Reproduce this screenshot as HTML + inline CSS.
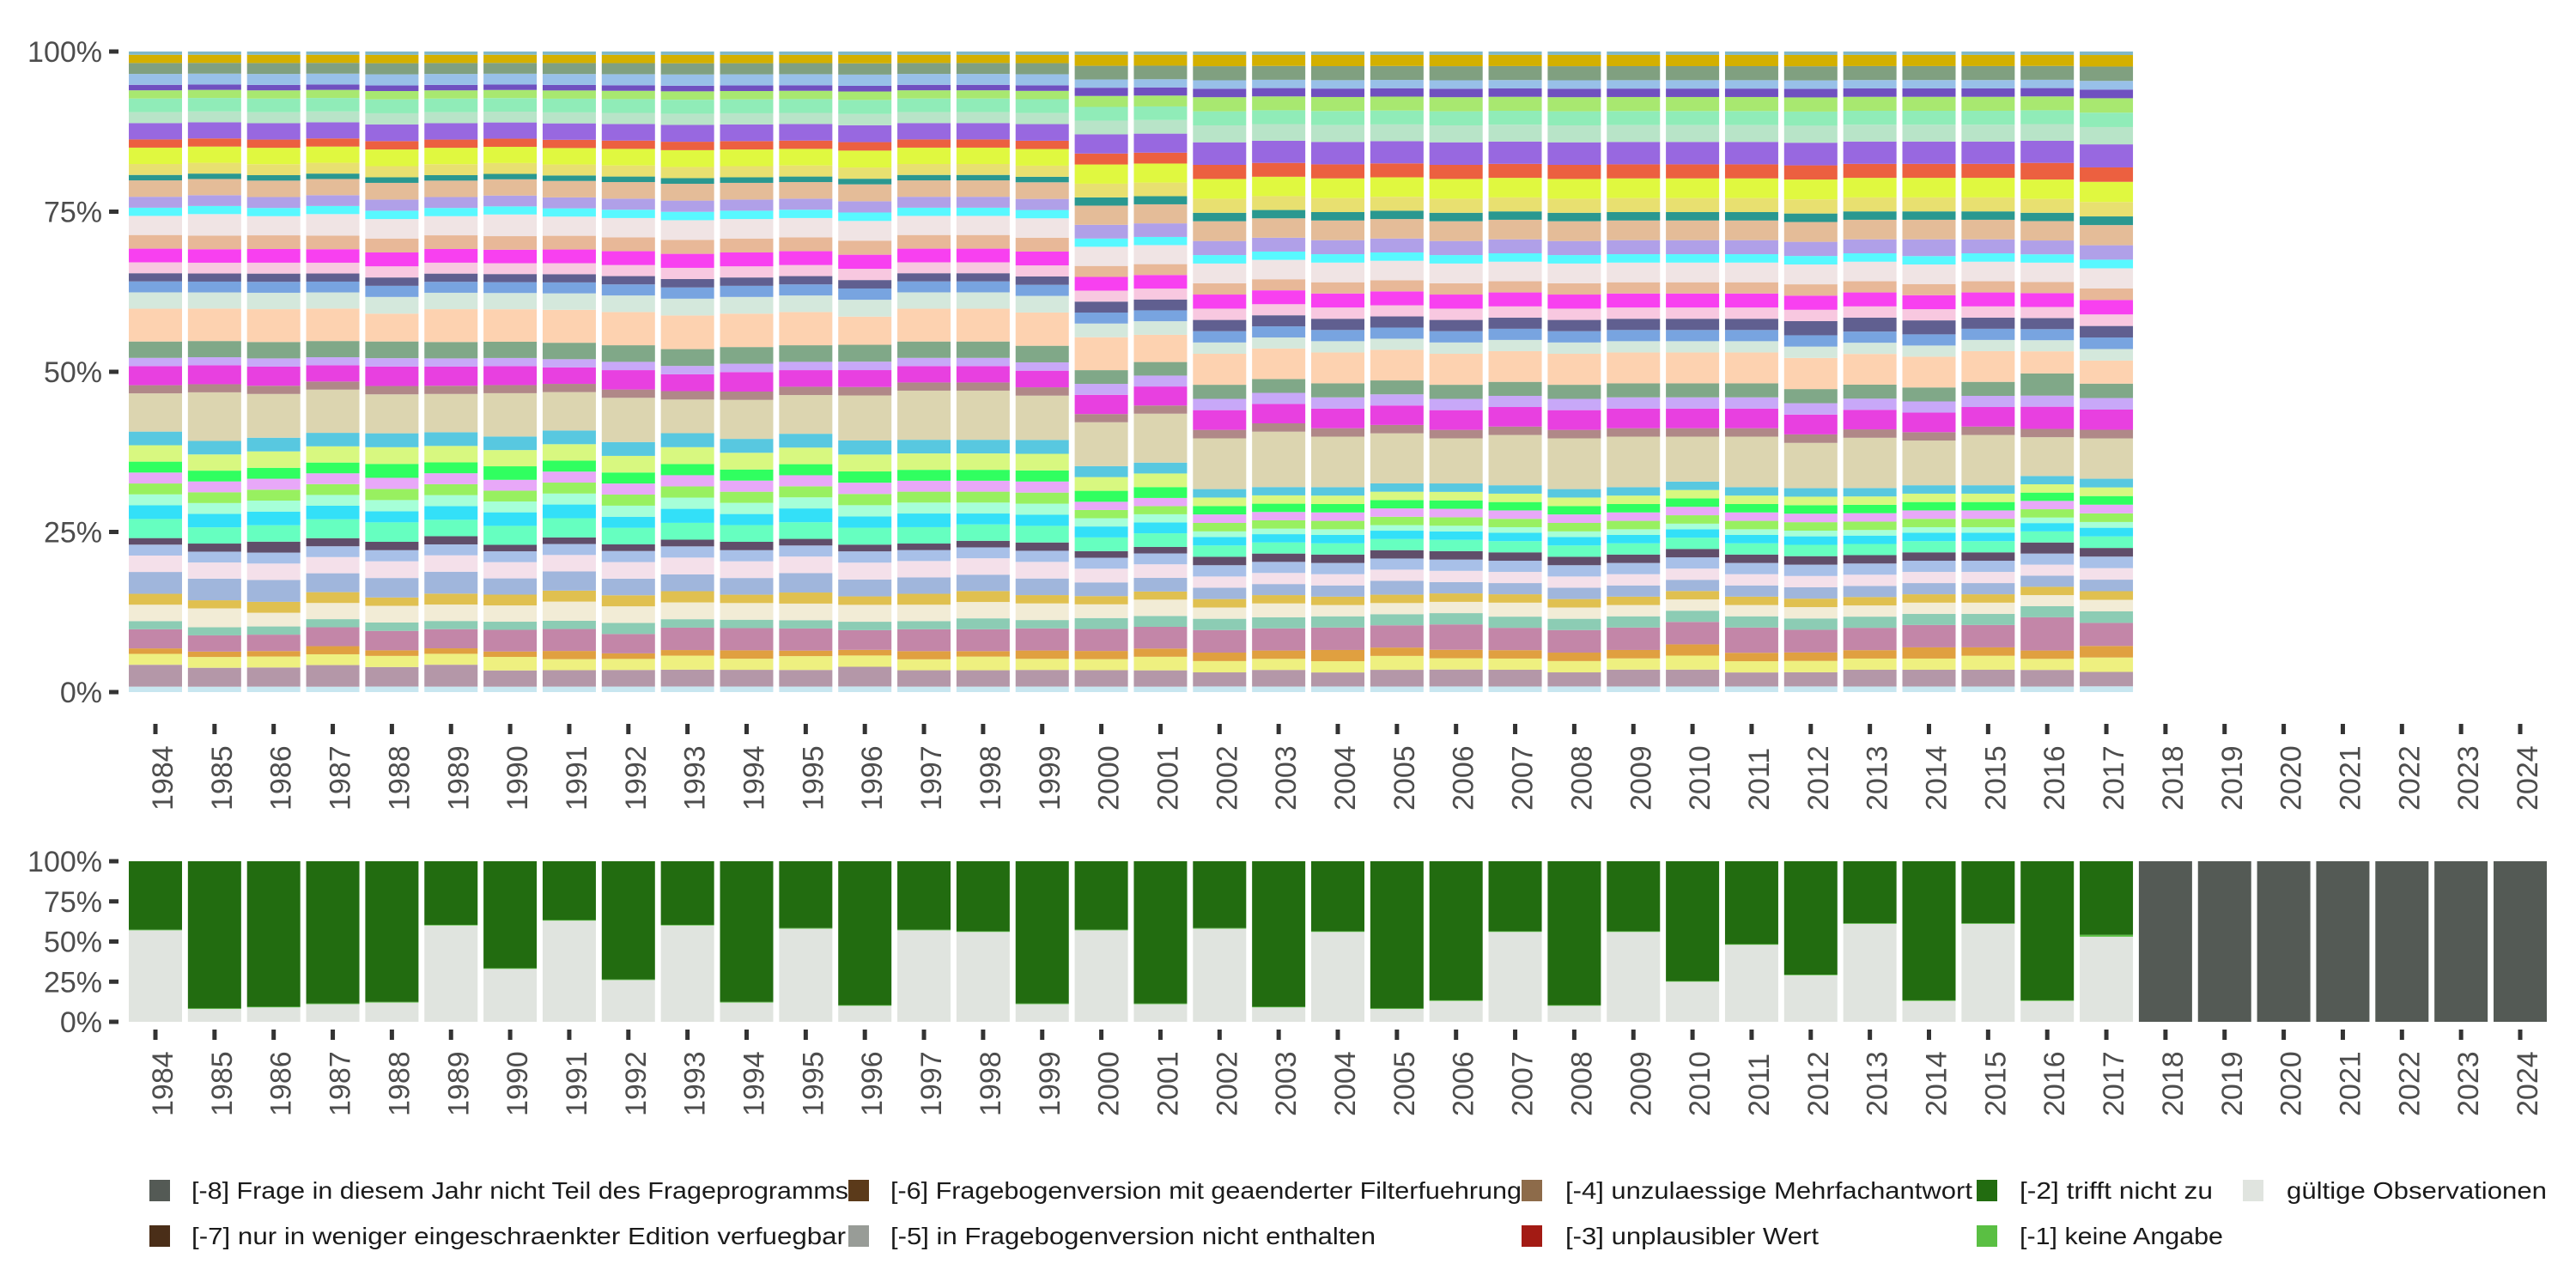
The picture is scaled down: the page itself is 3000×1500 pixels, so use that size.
<!DOCTYPE html>
<html><head><meta charset="utf-8">
<style>
html,body{margin:0;padding:0;background:#fff;}
svg{display:block;font-family:"Liberation Sans","DejaVu Sans",sans-serif;}
</style></head>
<body>
<svg id="chart" width="3000" height="1500" viewBox="0 0 3000 1500" xmlns="http://www.w3.org/2000/svg">
<rect width="3000" height="1500" fill="#ffffff"/>
<g id="top"></g>
<g id="bottom"></g>
<g id="legend"></g>
</svg>
<script>
// ===== data =====
const years = [1984,1985,1986,1987,1988,1989,1990,1991,1992,1993,1994,1995,1996,1997,1998,1999,2000,2001,2002,2003,2004,2005,2006,2007,2008,2009,2010,2011,2012,2013,2014,2015,2016,2017,2018,2019,2020,2021,2022,2023,2024];
const yTickValues = [0,25,50,75,100];
const yTickLabels = ["0%","25%","50%","75%","100%"];
// top chart: answer categories (bottom -> top), colours and per-year weights (1984..2017)
const catColors = ["#c8e6f0","#b497a8","#eef080","#e0a040","#c386a8","#8cccb4","#f2ecd6","#e0c050","#a0b6dc","#f4e0ea","#a8c0e8","#604e6a","#66ffc0","#33e0f8","#a6ffd8","#98f060","#e8a8f8","#30ff60","#d8f880","#58c8e0","#dcd5b0","#b08888","#e840e0","#c8a8f8","#80a888","#fdd2b0","#d4e8dc","#78a4e0","#605f90","#f8c8e0","#f840f0","#e8b898","#f0e4e4","#58f8ff","#b0a0e8","#e4bc98","#2a9890","#e8e070","#e0f840","#ec6040","#9868e0","#b8e4c8","#90ecb8","#a8e870","#7050c0","#98c0e8","#80a080","#d4b000","#80b8c8"];
const w01 = [1,1,1,1,1,1,1,1,1,1,1,1,1,1,1,1,1,1,1,1,1,1,1,1,1,1,1,1,1,1,1,1,1,1];
const w02 = [4,3.5,3.5,4,3.5,4,3,3,3,3,3,3,3.5,3,3,3,3,3,2.5,3,2.5,3,3,3,2.5,3,3,2.5,2.5,3,3,3,3,2.5];
const w03 = [2,2,2,2,2,2,2.5,2,2,2.5,2,2.5,2,2,2.5,2,2,2.5,2,2,2,2.5,2,2,2,2,2.5,2,2,2,2,2.5,2,2.5];
const w04 = [1,1,1,1.5,1,1,1,1.5,1,1,1.5,1,1,1.5,1,1.5,1.5,1.5,1.5,1.5,2,1.5,1.5,1.5,1.5,1.5,2,1.5,1.5,1.5,2,1.5,1.5,2];
const w05 = [3.5,3,3,3.5,3.5,3.5,4,4,3.5,4,4,4,3.5,4,4,4,4,4,4,4,4,4,4.5,4,4,4,4,4.5,4,4,4,4,6,4];
const w06 = [1.5,1.5,1.5,1.5,1.5,1.5,1.5,1.5,2,1.5,1.5,1.5,1.5,1.5,2,1.5,2,2,2,2,2,2,2,2,2,2,2,2,2,2,2,2,2,2];
const w07 = [3,3.5,2.5,3,3,3,3,3.5,3,3,3,3,3,3,3,3,2.5,3,2,2.5,2,2,2,2.5,2,2,2,2,2,2,2,2,2,2];
const w08 = [2,1.5,2,2,1.5,2,2,2,2,2,1.5,2,1.5,2,2,1.5,1.5,1.5,1.5,1.5,1.5,1.5,1.5,1.5,1.5,1.5,1.5,1.5,1.5,1.5,1.5,1.5,1.5,1.5];
const w09 = [4,4,4,3.5,3.5,4,3,3.5,3,3,3,3.5,3,3,3,3,2.5,2.5,2,2,2,2.5,2,2,2,2,2,2,2,2,2,2,2,2];
const w10 = [3,3,3,3,3,3,3,3,3,3,3,3,3,3,3,3,2.5,2.5,2,2,2,2,2,2,2,2,2,2,2,2,2,2,2,2];
const w11 = [2,2,2,2,2,2,2,2,2,2,2,2,2,2,2,2,2,2,2,2,2,2,2,2,2,2,2,2,2,2,2,2,2,2];
const w12 = [1.2,1.5,2,1.5,1.5,1.5,1.2,1.2,1.2,1.2,1.5,1.2,1.2,1.2,1.2,1.5,1.2,1.2,1.5,1.5,1.5,1.5,1.5,1.5,1.5,1.5,1.5,1.5,1.5,1.5,1.5,1.5,2,1.5];
const w13 = [3.5,3,3,3.5,3.5,3,3.5,3.5,3,3,3,3,3,3,3,3,2.5,2.5,2,2,2,2,2,2,2,2,2,2,2,2,2,2,2,2];
const w14 = [2.5,2.5,2.5,2.5,2,2.5,2.5,2.5,2,2.5,2,2.5,2,2.5,2,2,2,2,1.5,1.5,1.5,1.5,1.5,1.5,1.5,1.5,1.5,1.5,1.5,1.5,1.5,1.5,1.5,1.5];
const w15 = [2,2,2,2,2,2,2,2,2,2,2,2,2,2,2,2,1.5,1.5,1,1,1,1,1,1,1,1,1,1,1,1,1,1,1,1];
const w16 = [2,2,2,2,2,2,2,2,2,2,2,2,2,2,2,2,1.5,1.5,1.5,1.5,1.5,1.5,1.5,1.5,1.5,1.5,1.5,1.5,1.5,1.5,1.5,1.5,1.5,1.5];
const w17 = [2,2,2,2,2,2,2,2,2,2,2,2,2,2,2,2,1.5,1.5,1.5,1.5,1.5,1.5,1.5,1.5,1.5,1.5,1.5,1.5,1.5,1.5,1.5,1.5,1.5,1.5];
const w18 = [2,2,2,2,2.5,2,2.5,2,2,2,2,2,2,2,2,2,2,2,1.5,1.5,1.5,1.5,1.5,1.5,1.5,1.5,1.5,1.5,1.5,1.5,1.5,1.5,1.5,1.5];
const w19 = [3,3,3,3,3,3,3,3,3,3,3,3,3,3,3,3,2.5,2.5,1.5,1.5,1.5,1.5,1.5,1.5,1.5,1.5,1.5,1.5,1.5,1.5,1.5,1.5,1.5,1.5];
const w20 = [2.5,2.5,2.5,2.5,2.5,2.5,2.5,2.5,2.5,2.5,2.5,2.5,2.5,2.5,2.5,2.5,2,2,1.5,1.5,1.5,1.5,1.5,1.5,1.5,1.5,1.5,1.5,1.5,1.5,1.5,1.5,1.5,1.5];
const w21 = [7,9,8,8,7,7,8,7,8,6,7,7,8,9,9,8,8,9,9,10,9,9,8,9,9,9,8,9,8,9,8,9,7,7];
const w22 = [1.5,1.5,1.5,1.5,1.5,1.5,1.5,1.5,1.5,1.5,1.5,1.5,1.5,1.5,1.5,1.5,1.5,1.5,1.5,1.5,1.5,1.5,1.5,1.5,1.5,1.5,1.5,1.5,1.5,1.5,1.5,1.5,1.5,1.5];
const w23 = [3.5,3.5,3.5,3,3.5,3.5,3.5,3,3.5,3,3.5,3,3,3,3,3,3.5,3.5,3.5,3.5,3.5,3.5,3.5,3.5,3.5,3.5,3.5,3.5,3.5,3.5,3.5,3.5,4,3.5];
const w24 = [1.5,1.5,1.5,1.5,1.5,1.5,1.5,1.5,1.5,1.5,1.5,1.5,1.5,1.5,1.5,1.5,2,2,2,2,2,2,2,2,2,2,2,2,2,2,2,2,2,2];
const w25 = [3,3,3,3,3,3,3,3,3,3,3,3,3,3,3,3,2.5,2.5,2.5,2.5,2.5,2.5,2.5,2.5,2.5,2.5,2.5,2.5,2.5,2.5,2.5,2.5,4,2.5];
const w26 = [6,6,6,6,5,6,6,6,6,6,6,6,5,6,6,6,6,5,5.5,5.5,5.5,5.5,5.5,5.5,5.5,5.5,5.5,5.5,5.5,5.5,5.5,5.5,4,4];
const w27 = [3,3,3,3,3,3,3,3,3,3,3,3,3,3,3,3,2.5,2.5,2,2,2,2,2,2,2,2,2,2,2,2,2,2,2,2];
const w28 = [2,2,2,2,2,2,2,2,2,2,2,2,2,2,2,2,2,2,2,2,2,2,2,2,2,2,2,2,2,2,2,2,2,2];
const w29 = [1.5,1.5,1.5,1.5,1.5,1.5,1.5,1.5,1.5,1.5,1.5,1.5,1.5,1.5,1.5,1.5,2,2,2,2,2,2,2,2,2,2,2,2,2.5,2.5,2.5,2,2,2];
const w30 = [2,2,2,2,2,2,2,2,2,2,2,2,2,2,2,2,2,2,2,2,2,2,2,2,2,2,2,2,2,2,2,2,2,2];
const w31 = [2.5,2.5,2.5,2.5,2.5,2.5,2.5,2.5,2.5,2.5,2.5,2.5,2.5,2.5,2.5,2.5,2.5,2.5,2.5,2.5,2.5,2.5,2.5,2.5,2.5,2.5,2.5,2.5,2.5,2.5,2.5,2.5,2.5,2.5];
const w32 = [2.5,2.5,2.5,2.5,2.5,2.5,2.5,2.5,2.5,2.5,2.5,2.5,2.5,2.5,2.5,2.5,2,2,2,2,2,2,2,2,2,2,2,2,2,2,2,2,2,2];
const w33 = [3.5,4,3.5,4,3.5,3.5,4,3.5,3.5,3.5,3.5,3.5,3.5,3.5,3.5,3.5,3.5,3.5,3.5,3.5,3.5,3.5,3.5,3.5,3.5,3.5,3.5,3.5,3.5,3.5,3.5,3.5,3.5,3.5];
const w34 = [1.5,1.5,1.5,1.5,1.5,1.5,1.5,1.5,1.5,1.5,1.5,1.5,1.5,1.5,1.5,1.5,1.5,1.5,1.5,1.5,1.5,1.5,1.5,1.5,1.5,1.5,1.5,1.5,1.5,1.5,1.5,1.5,1.5,1.5];
const w35 = [2,2,2,2,2,2,2,2,2,2,2,2,2,2,2,2,2.5,2.5,2.5,2.5,2.5,2.5,2.5,2.5,2.5,2.5,2.5,2.5,2.5,2.5,3,2.5,2.5,2.5];
const w36 = [3,3,3,3,3,3,3,3,3,3,3,3,3,3,3,3,3.5,3.5,3.5,3.5,3.5,3.5,3.5,3.5,3.5,3.5,3.5,3.5,3.5,3.5,3.5,3.5,3.5,3.5];
const w37 = [1,1,1,1,1,1,1,1,1,1,1,1,1,1,1,1,1.5,1.5,1.5,1.5,1.5,1.5,1.5,1.5,1.5,1.5,1.5,1.5,1.5,1.5,1.5,1.5,1.5,1.5];
const w38 = [2,2,2,2,2,2,2,2,2,2,2,2,2,2,2,2,2.5,2.5,2.5,2.5,2.5,2.5,2.5,2.5,2.5,2.5,2.5,2.5,2.5,2.5,2.5,2.5,2.5,2.5];
const w39 = [3,3,3,3,3,3,3,3,3,3,3,3,3,3,3,3,3.5,3.5,3.5,3.5,3.5,3.5,3.5,3.5,3.5,3.5,3.5,3.5,3.5,3.5,3.5,3.5,3.5,3.5];
const w40 = [1.5,1.5,1.5,1.5,1.5,1.5,1.5,1.5,1.5,1.5,1.5,1.5,1.5,1.5,1.5,1.5,2,2,2.5,2.5,2.5,2.5,2.5,2.5,2.5,2.5,2.5,2.5,2.5,2.5,2.5,2.5,3,2.5];
const w41 = [3,3,3,3,3,3,3,3,3,3,3,3,3,3,3,3,3.5,3.5,4,4,4,4,4,4,4,4,4,4,4,4,4,4,4,4];
const w42 = [2,2,2,2,2,2,2,2,2,2,2,2,2,2,2,2,2.5,2.5,3,3,3,3,3,3,3,3,3,3,3,3,3,3,3,3];
const w43 = [2.5,2.5,2.5,2.5,2.5,2.5,2.5,2.5,2.5,2.5,2.5,2.5,2.5,2.5,2.5,2.5,2.5,2.5,2.5,2.5,2.5,2.5,2.5,2.5,2.5,2.5,2.5,2.5,2.5,2.5,2.5,2.5,2.5,2.5];
const w44 = [1.5,1.5,1.5,1.5,1.5,1.5,1.5,1.5,1.5,1.5,1.5,1.5,1.5,1.5,1.5,1.5,2,2,2.5,2.5,2.5,2.5,2.5,2.5,2.5,2.5,2.5,2.5,2.5,2.5,2.5,2.5,2.5,2.5];
const w45 = [1,1,1,1,1,1,1,1,1,1,1,1,1,1,1,1,1.5,1.5,1.5,1.5,1.5,1.5,1.5,1.5,1.5,1.5,1.5,1.5,1.5,1.5,1.5,1.5,1.5,1.5];
const w46 = [2,2,2,2,2,2,2,2,2,2,2,2,2,2,2,2,1.5,1.5,1.5,1.5,1.5,1.5,1.5,1.5,1.5,1.5,1.5,1.5,1.5,1.5,1.5,1.5,1.5,1.5];
const w47 = [2,2,2,2,2,2,2,2,2,2,2,2,2,2,2,2,2.5,2.5,2.5,2.5,2.5,2.5,2.5,2.5,2.5,2.5,2.5,2.5,2.5,2.5,2.5,2.5,2.5,2.5];
const w48 = [1.5,1.5,1.5,1.5,1.5,1.5,1.5,1.5,1.5,1.5,1.5,1.5,1.5,1.5,1.5,1.5,2,2,2,2,2,2,2,2,2,2,2,2,2,2,2,2,2,2];
const w49 = [0.6,0.6,0.6,0.6,0.6,0.6,0.6,0.6,0.6,0.6,0.6,0.6,0.6,0.6,0.6,0.6,0.6,0.6,0.6,0.6,0.6,0.6,0.6,0.6,0.6,0.6,0.6,0.6,0.6,0.6,0.6,0.6,0.6,0.6];
const catWeights = [w01,w02,w03,w04,w05,w06,w07,w08,w09,w10,w11,w12,w13,w14,w15,w16,w17,w18,w19,w20,w21,w22,w23,w24,w25,w26,w27,w28,w29,w30,w31,w32,w33,w34,w35,w36,w37,w38,w39,w40,w41,w42,w43,w44,w45,w46,w47,w48,w49];
// bottom chart: share (%) per year
const validShare = [57,8,9,11,12,60,33,63,26,60,12,58,10,57,56,11,57,11,58,9,56,8,13,56,10,56,25,48,29,61,13,61,13,53,0,0,0,0,0,0,0];
const noAnswerShare = [0.4,0.4,0.4,0.4,0.4,0.4,0.4,0.4,0.4,0.4,0.4,0.4,0.4,0.4,0.4,0.4,0.4,0.4,0.4,0.4,0.4,0.4,0.4,0.4,0.4,0.4,0.4,0.4,0.4,0.4,0.4,0.4,0.4,1.2,0,0,0,0,0,0,0];
const notApplicableShare = [42.6,91.6,90.6,88.6,87.6,39.6,66.6,36.6,73.6,39.6,87.6,41.6,89.6,42.6,43.6,88.6,42.6,88.6,41.6,90.6,43.6,91.6,86.6,43.6,89.6,43.6,74.6,51.6,70.6,38.6,86.6,38.6,86.6,45.8,0,0,0,0,0,0,0];
const notInProgramShare = [0,0,0,0,0,0,0,0,0,0,0,0,0,0,0,0,0,0,0,0,0,0,0,0,0,0,0,0,0,0,0,0,0,0,100,100,100,100,100,100,100];
const legendLabels = ["[-8] Frage in diesem Jahr nicht Teil des Frageprogramms","[-7] nur in weniger eingeschraenkter Edition verfuegbar","[-6] Fragebogenversion mit geaenderter Filterfuehrung","[-5] in Fragebogenversion nicht enthalten","[-4] unzulaessige Mehrfachantwort","[-3] unplausibler Wert","[-2] trifft nicht zu","[-1] keine Angabe","gültige Observationen"];

// ===== layout =====
const NS = "http://www.w3.org/2000/svg";
const X0 = 181, XSTEP = 68.85, BW = 62;
const xScale = i => X0 + i * XSTEP;
const topY = v => 806 - v / 100 * 746;
const botY = v => 1190 - v / 100 * 187;
function mk(tag, attrs, parent){ const e = document.createElementNS(NS, tag); for (const k in attrs) e.setAttribute(k, attrs[k]); parent.appendChild(e); return e; }
const gTop = document.getElementById('top'), gBot = document.getElementById('bottom'), gLeg = document.getElementById('legend');

function yAxis(g, yf, name){
  yTickValues.forEach((v, i) => {
    const y = yf(v);
    const t = mk('rect', {x:127, y:y-2.5, width:11, height:5, fill:'#333333'}, g);
    
    
    const tx = mk('text', {x:119, y:y+12, 'text-anchor':'end', 'font-size':34, fill:'#4d4d4d'}, g);
    tx.textContent = yTickLabels[i];
    
    
  });
}
function xAxis(g, tickY, name){
  years.forEach((yr, i) => {
    const cx = xScale(i);
    const t = mk('rect', {x:cx-2.5, y:tickY, width:5, height:12, fill:'#333333'}, g);
    
    
    const tx = mk('text', {transform:`translate(${cx+20},${tickY+101}) rotate(-90)`, 'font-size':34, fill:'#4d4d4d'}, g);
    tx.textContent = yr;
    
    
  });
}

// top stacked chart
for (let i = 0; i < 34; i++) {
  let total = 0;
  catWeights.forEach(w => total += w[i]);
  let cum = 0;
  catWeights.forEach((w, c) => {
    const v0 = cum / total * 100; cum += w[i]; const v1 = cum / total * 100;
    const r = mk('rect', {x:xScale(i)-BW/2, y:topY(v1), width:BW, height:Math.max(0, topY(v0)-topY(v1)), fill:catColors[c]}, gTop);
    
    
  });
}
yAxis(gTop, topY, 'top-y-axis');
xAxis(gTop, 843, 'top-x-axis');

// bottom chart
const botSeries = [[validShare,'#e0e4df'],[noAnswerShare,'#5abf43'],[notApplicableShare,'#226c10'],[notInProgramShare,'#545a55']];
years.forEach((yr, i) => {
  let cum = 0;
  botSeries.forEach(([arr, col], s) => {
    const v = arr[i]; if (!v) return;
    const v0 = cum; cum += v;
    const r = mk('rect', {x:xScale(i)-BW/2, y:botY(Math.min(cum,100)), width:BW, height:botY(v0)-botY(Math.min(cum,100)), fill:col}, gBot);
    
    
  });
});
yAxis(gBot, botY, 'bottom-y-axis');
xAxis(gBot, 1199, 'bottom-x-axis');

// legend
const legCols = ['#545a55','#4a2e18','#5b3a1a','#989c97','#8d6b4a','#a31b14','#226c10','#5abf43','#e0e4df'];
const legPos = [[174,223,1374,765],[174,223,1427,762],[988,1037,1374,735],[988,1037,1427,565],[1772,1823,1374,474],[1772,1823,1427,295],[2302,2352,1374,225],[2302,2352,1427,237],[2612,2663,1374,303]];
legendLabels.forEach((lab, i) => {
  const [kx, tx, ky, tl] = legPos[i];
  const k = mk('rect', {x:kx, y:ky, width:24, height:25, fill:legCols[i]}, gLeg);
  
  
  const t = mk('text', {x:tx, y:ky+22, 'font-size':28, fill:'#1a1a1a', textLength:tl, lengthAdjust:'spacingAndGlyphs'}, gLeg);
  t.textContent = lab;
  
  
});
</script>
</body></html>
